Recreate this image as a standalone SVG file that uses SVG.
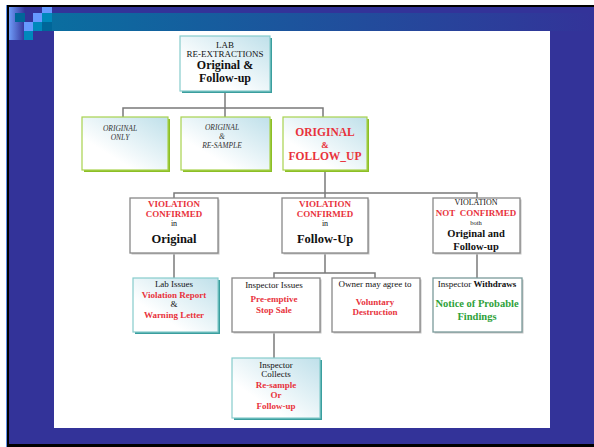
<svg xmlns="http://www.w3.org/2000/svg" width="594" height="447" viewBox="0 0 594 447">
<defs>
<linearGradient id="band" x1="0" y1="0" x2="1" y2="0"><stop offset="0" stop-color="#0a6ea0"/><stop offset="1" stop-color="#333399"/></linearGradient>
<linearGradient id="strip" x1="0" y1="0" x2="1" y2="0"><stop offset="0" stop-color="#6f9cf8"/><stop offset="1" stop-color="#333399"/></linearGradient>
<linearGradient id="fill" x1="0" y1="1" x2="1" y2="0"><stop offset="0.3" stop-color="#ffffff"/><stop offset="1" stop-color="#bfe0ea"/></linearGradient>
<style>
text{font-family:"Liberation Serif","Times New Roman",serif;text-anchor:middle;fill:#111}
.s{font-size:9px}
.xs{font-size:8px}
.it{font-size:7.5px;font-style:italic;fill:#333}
.b{font-weight:bold}
.red{fill:#e8323c;font-weight:bold}
.grn{fill:#2ea23a;font-weight:bold}
.tealS{fill:#3a9e9e}
.teal{fill:url(#fill);stroke:#86cccc;stroke-width:1.2}
.greenS{fill:#8cbf26}
.green{fill:url(#fill);stroke:#a8d34e;stroke-width:1.2}
.grayS{fill:#c4c4c4}
.gray{fill:#fff;stroke:#888;stroke-width:1.3}
.conn{stroke:#7a7a7a;stroke-width:1.5;fill:none}
</style>
</defs>
<!-- frame -->
<rect x="6" y="5" width="590" height="442" fill="#000"/>
<rect x="9" y="7" width="587" height="437" fill="#333399"/>
<rect x="6" y="5" width="1" height="442" fill="#5f8fe8"/>
<rect x="9" y="7" width="16" height="33" fill="url(#strip)"/>
<rect x="52" y="13" width="542" height="18" fill="url(#band)"/>
<rect x="15" y="13" width="10" height="9" fill="#006699"/>
<rect x="33" y="13" width="9" height="9" fill="#6699ff"/>
<rect x="42" y="7" width="10" height="6" fill="#6699ff"/>
<rect x="42" y="13" width="10" height="9" fill="#0088bb"/>
<rect x="24" y="22" width="9" height="9" fill="#6699ff"/>
<rect x="33" y="22" width="9" height="9" fill="#0088bb"/>
<rect x="42" y="22" width="10" height="9" fill="#006699"/>
<rect x="24" y="31" width="9" height="9" fill="#0088bb"/>
<rect x="54" y="31" width="496" height="397" fill="#fff"/>

<g id="connectors" class="conn">
<path d="M225 91V117"/>
<path d="M123 117V108H323V117"/>
<path d="M325 170V198"/>
<path d="M174 198V193H477V198"/>
<path d="M174 253V278"/>
<path d="M325 253V273"/>
<path d="M274 278V273H375V278"/>
<path d="M477 253V278"/>
<path d="M274 332V358"/>
</g>

<g id="lab">
<rect class="tealS" x="182" y="38" width="90" height="55"/>
<rect class="teal" x="180" y="36" width="90" height="55"/>
<text class="s" x="225" y="48">LAB</text>
<text class="s" x="225" y="57">RE-EXTRACTIONS</text>
<text class="b" x="225" y="69" font-size="12">Original &amp;</text>
<text class="b" x="225" y="82" font-size="12">Follow-up</text>
</g>

<g id="orig-only">
<rect class="greenS" x="84" y="119" width="86" height="53"/>
<rect class="green" x="82" y="117" width="86" height="53"/>
<text class="it" x="120" y="131">ORIGINAL</text>
<text class="it" x="120" y="140">ONLY</text>
</g>

<g id="orig-resample">
<rect class="greenS" x="183" y="119" width="89" height="53"/>
<rect class="green" x="181" y="117" width="89" height="53"/>
<text class="it" x="222" y="130">ORIGINAL</text>
<text class="it" x="222" y="139">&amp;</text>
<text class="it" x="222" y="148">RE-SAMPLE</text>
</g>

<g id="orig-followup">
<rect class="greenS" x="285" y="119" width="84" height="53"/>
<rect class="green" x="283" y="117" width="84" height="53"/>
<text class="red" x="325" y="136" font-size="11.5">ORIGINAL</text>
<text class="red" x="325" y="148" font-size="9">&amp;</text>
<text class="red" x="325" y="160" font-size="11.5">FOLLOW_UP</text>
</g>

<g id="vc-original">
<rect class="grayS" x="131.5" y="199.5" width="88" height="55"/>
<rect class="gray" x="130" y="198" width="88" height="55"/>
<text class="red" x="174" y="207" font-size="9">VIOLATION</text>
<text class="red" x="174" y="217" font-size="9">CONFIRMED</text>
<text class="xs" x="174" y="226">in</text>
<text class="b" x="174" y="243" font-size="12.5">Original</text>
</g>

<g id="vc-followup">
<rect class="grayS" x="283.5" y="199.5" width="86" height="55"/>
<rect class="gray" x="282" y="198" width="86" height="55"/>
<text class="red" x="325" y="207" font-size="9">VIOLATION</text>
<text class="red" x="325" y="217" font-size="9">CONFIRMED</text>
<text class="xs" x="325" y="226">in</text>
<text class="b" x="325" y="243" font-size="12.5">Follow-Up</text>
</g>

<g id="not-confirmed">
<rect class="grayS" x="434.5" y="199.5" width="87" height="55"/>
<rect class="gray" x="433" y="198" width="87" height="55"/>
<text class="xs" x="476" y="205">VIOLATION</text>
<text class="red" x="476" y="216" font-size="9">NOT&#160; CONFIRMED</text>
<text x="476" y="225" font-size="6.5">both</text>
<text class="b" x="476" y="237" font-size="10.5">Original and</text>
<text class="b" x="476" y="250" font-size="10.5">Follow-up</text>
</g>

<g id="lab-issues">
<rect class="tealS" x="135" y="280" width="85" height="54"/>
<rect class="teal" x="133" y="278" width="85" height="54"/>
<text class="s" x="174" y="287">Lab Issues</text>
<text class="red" x="174" y="298" font-size="9">Violation Report</text>
<text class="s" x="174" y="307">&amp;</text>
<text class="red" x="174" y="318" font-size="9">Warning Letter</text>
</g>

<g id="inspector-issues">
<rect class="grayS" x="233.5" y="279.5" width="88" height="54"/>
<rect class="gray" x="232" y="278" width="88" height="54"/>
<text class="s" x="274" y="288">Inspector Issues</text>
<text class="red" x="274" y="302" font-size="9">Pre-emptive</text>
<text class="red" x="274" y="313" font-size="9">Stop Sale</text>
</g>

<g id="owner">
<rect class="grayS" x="333.5" y="279.5" width="88" height="54"/>
<rect class="gray" x="332" y="278" width="88" height="54"/>
<text class="s" x="375" y="287">Owner may agree to</text>
<text class="red" x="375" y="305" font-size="9">Voluntary</text>
<text class="red" x="375" y="315" font-size="9">Destruction</text>
</g>

<g id="withdraws">
<rect class="grayS" x="434.5" y="279.5" width="89" height="54"/>
<rect class="gray" x="433" y="278" width="89" height="54" style="stroke:#7a9a9a"/>
<text class="s" x="477" y="287">Inspector <tspan class="b">Withdraws</tspan></text>
<text class="grn" x="477" y="307" font-size="10.5">Notice of Probable</text>
<text class="grn" x="477" y="320" font-size="10.5">Findings</text>
</g>

<g id="collects">
<rect class="tealS" x="234" y="360" width="88" height="60"/>
<rect class="teal" x="232" y="358" width="88" height="60"/>
<text class="s" x="276" y="368">Inspector</text>
<text class="s" x="276" y="377">Collects</text>
<text class="red" x="276" y="388" font-size="9">Re-sample</text>
<text class="red" x="276" y="398" font-size="9">Or</text>
<text class="red" x="276" y="409" font-size="9">Follow-up</text>
</g>
</svg>
